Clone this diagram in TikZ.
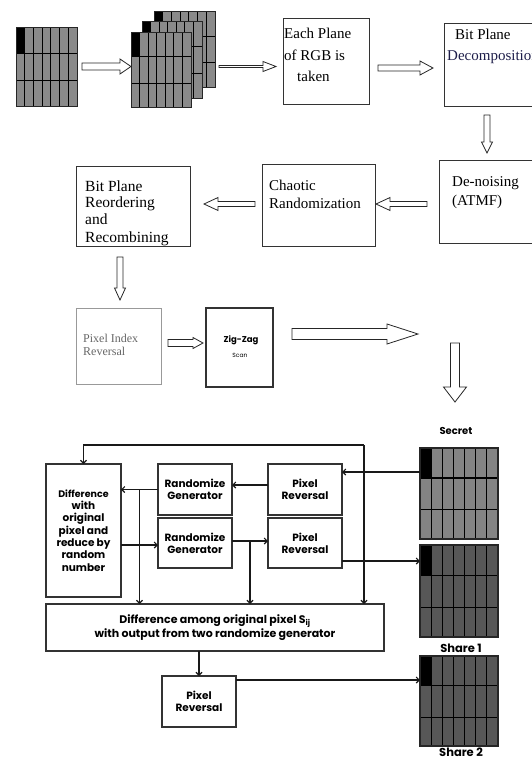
\documentclass[tikz,border=0pt]{standalone}
\usepackage{fontspec}
\setmainfont{Liberation Serif}
\newfontfamily\geo{Poppins}
\usetikzlibrary{calc,arrows.meta}

\definecolor{topgray}{HTML}{8A8A8A}
\definecolor{secgray}{HTML}{848484}
\definecolor{sharegray}{HTML}{575757}
\definecolor{inkblue}{HTML}{1E1E4A}

\tikzset{
  stepbox/.style={draw=black!80, line width=0.9pt, inner sep=0pt, outer sep=0pt, anchor=north west},
  serif/.style={anchor=base west, inner sep=0pt, font=\fontsize{15}{18}\selectfont},
  hollow/.style={draw=black!85, line width=0.8pt, fill=white, line join=miter},
  geobox/.style={draw=black!80, line width=1.2pt, inner sep=0pt, outer sep=0pt, anchor=north west,
    align=center, font=\geo\bfseries\fontsize{10.5}{12}\selectfont},
  flow/.style={draw=black!90, line width=1.1pt, -{Straight Barb[length=3pt,width=6pt]}},
  gridlbl/.style={font=\geo\bfseries\fontsize{11.5}{13}\selectfont, inner sep=0pt},
}

% hollow block arrow: start, tip, shaft half-width, head half-width, head length
\newcommand\blockarrow[5]{%
  \path let \p1=#1, \p2=#2, \n1={atan2(\y2-\y1,\x2-\x1)}, \n2={veclen(\x2-\x1,\y2-\y1)} in
    \pgfextra{\xdef\baAng{\n1}\xdef\baLen{\n2}\xdef\baX{\x1}\xdef\baY{\y1}};
  \draw[hollow,shift={(\baX,\baY)},rotate=\baAng]
    (0,#3) -- (\baLen-#5,#3) -- (\baLen-#5,#4) -- (\baLen,0) -- (\baLen-#5,-#4)
    -- (\baLen-#5,-#3) -- (0,-#3) -- cycle;}

% image grid: name, left, top, width, height, fill colour, line width
\newcommand\pixgrid[7]{%
  \node[fill=#6, minimum width=#4pt, minimum height=#5pt, inner sep=0pt, outer sep=0pt,
        anchor=north west] (#1) at (#2,#3) {};
  \fill[black] (#1.north west) rectangle ($(#1.north west)!1/7!(#1.north east) + (0,0.33*#5)$);
  \foreach \k in {1,...,6}
    \draw[black, line width=#7] ($(#1.north west)!\k/7!(#1.north east)$) -- ($(#1.south west)!\k/7!(#1.south east)$);
  \foreach \r in {0.33,0.68}
    \draw[black, line width=#7] ($(#1.north west)!\r!(#1.south west)$) -- ($(#1.north east)!\r!(#1.south east)$);
  \draw[black!85, line width=#7] (#1.north west) rectangle (#1.south east);}

\begin{document}
\begin{tikzpicture}[x=1pt,y=-1pt]
\useasboundingbox (0,0) rectangle (532,758);
\clip (0,0) rectangle (532,758);

% ---------- first row: image, RGB planes, plane selection ----------
\pixgrid{img}{16}{27}{61}{79}{topgray}{0.9pt}
\pixgrid{planeB}{154}{11}{61}{76}{topgray}{0.9pt}
\pixgrid{planeG}{142}{21}{60}{77}{topgray}{0.9pt}
\pixgrid{planeR}{131}{32}{60}{75}{topgray}{0.9pt}

\node[stepbox, minimum width=86pt, minimum height=86pt] (each) at (283,18) {};
\node[serif] (eachA) at (284,38) {Each Plane};
\node[serif] (eachB) at (284,60) {of RGB is};
\node[serif] (eachC) at (297,81) {taken};

\node[stepbox, minimum width=110pt, minimum height=83pt] (decomp) at (444,23) {};
\node[serif] (decA) at (455,39) {Bit Plane};
\node[serif, text=inkblue] (decB) at (447,60) {Decomposition};

\blockarrow{($(img.east)+(5,0)$)}{(planeR.west |- img.east)}{3.5}{7.5}{11}
\blockarrow{($(planeB.east |- img.east)+(4,0)$)}{($(each.west |- img.east)+(-7,0)$)}{1}{5}{13}
\blockarrow{($(each.east |- 0,68)+(9,0)$)}{($(decomp.west |- 0,68)+(-11,0)$)}{3}{7}{13}

% ---------- second row ----------
\node[stepbox, minimum width=110pt, minimum height=83pt] (den) at (439,160) {};
\node[serif] (denA) at (452,186) {De-noising};
\node[serif] (denB) at (452,205) {(ATMF)};

\node[stepbox, minimum width=113pt, minimum height=82pt] (chaos) at (262,164) {};
\node[serif] (chA) at (269,190) {Chaotic};
\node[serif] (chB) at (269,208) {Randomization};

\node[stepbox, minimum width=114pt, minimum height=80pt] (reord) at (76,166) {};
\node[serif, font=\fontsize{15.5}{18}\selectfont] (reA) at (85,191) {Bit Plane};
\node[serif, font=\fontsize{15.5}{18}\selectfont] (reB) at (85,207) {Reordering};
\node[serif, font=\fontsize{15.5}{18}\selectfont] (reC) at (85,224) {and};
\node[serif, font=\fontsize{15.5}{18}\selectfont] (reD) at (85,242) {Recombining};

\blockarrow{($(decomp.south -| 487,0)+(0,9)$)}{($(den.north -| 487,0)+(0,-7)$)}{3}{5.5}{11}
\blockarrow{($(den.west |- 0,204)+(-12,0)$)}{($(chaos.east |- 0,204)+(1,0)$)}{2.5}{6.5}{14}
\blockarrow{($(chaos.west |- 0,204)+(-7,0)$)}{($(reord.east |- 0,204)+(14,0)$)}{2.5}{6.5}{14}

% ---------- third row ----------
\node[stepbox, draw=black!40, minimum width=85pt, minimum height=76pt] (pix) at (76,308) {};
\node[serif, text=black!60, font=\fontsize{12}{14}\selectfont] (pixA) at (83,342) {Pixel Index};
\node[serif, text=black!60, font=\fontsize{12}{14}\selectfont] (pixB) at (83,355) {Reversal};

\node[stepbox, line width=1.6pt, minimum width=67pt, minimum height=79pt] (zz) at (206,308) {};
\node[anchor=base, inner sep=0pt, font=\geo\bfseries\fontsize{8.5}{9}\selectfont] (zzA) at (241,342) {Zig-Zag};
\node[anchor=base, inner sep=0pt, font=\geo\fontsize{6}{7}\selectfont] (zzB) at (240,357) {Scan};

\blockarrow{($(reord.south -| 120,0)+(0,11)$)}{($(pix.north -| 120,0)+(0,-8)$)}{3}{5.5}{12}
\blockarrow{($(pix.east |- 0,343)+(7,0)$)}{($(zz.west |- 0,343)+(-3,0)$)}{3.5}{5.5}{10}
\blockarrow{($(zz.east |- 0,334)+(19,0)$)}{($(zz.east |- 0,334)+(145,0)$)}{5.5}{10}{31}
\coordinate (downTop) at (455,343);
\coordinate (downTip) at (455,402);
\blockarrow{(downTop)}{(downTip)}{4.5}{11.5}{15}

% ---------- share generation ----------
\node[gridlbl, font=\geo\bfseries\fontsize{10}{12}\selectfont] (secLbl) at (456,431) {Secret};
\pixgrid{secret}{420}{448}{78}{91}{secgray}{1.2pt}
\pixgrid{share1}{420}{545}{78}{92}{sharegray}{1.2pt}
\node[gridlbl] (sh1Lbl) at (461,648) {Share 1};
\pixgrid{share2}{420}{656}{78}{90}{sharegray}{1.2pt}
\node[gridlbl] (sh2Lbl) at (461,752.5) {Share 2};

\node[geobox, minimum width=75pt, minimum height=133pt, font=\geo\bfseries\fontsize{10.5}{12.3}\selectfont] (diff) at (46,464)
  {{\fontsize{9.5}{12.3}\selectfont Difference}\\with\\original\\pixel and\\reduce by\\random\\number};
\node[geobox, minimum width=74pt, minimum height=51pt] (rg1) at (158,464) {Randomize\\Generator};
\node[geobox, minimum width=74pt, minimum height=50pt] (rg2) at (158,518) {Randomize\\Generator};
\node[geobox, minimum width=74pt, minimum height=51pt] (pr1) at (268,464) {Pixel\\Reversal};
\node[geobox, minimum width=74pt, minimum height=50pt] (pr2) at (268,518) {Pixel\\Reversal};
\node[geobox, minimum width=338pt, minimum height=47pt, font=\geo\bfseries\fontsize{11}{13}\selectfont] (big) at (46,604)
  {Difference among original pixel S\textsubscript{ij}\\with output from two randomize generator};
\node[geobox, minimum width=74pt, minimum height=51pt] (pr3) at (162,676) {Pixel\\Reversal};

% feedback from the secret image
\coordinate (loopTop) at (364,445);
\draw[flow] (loopTop) -| (diff.north);
\draw[flow] (loopTop) -- (loopTop |- big.north);

\coordinate (s0) at ($(secret.north west)+(0,24)$);
\draw[flow] (s0) -- (s0 -| pr1.east);
\coordinate (p1) at ($(pr1.north west)+(0,21)$);
\draw[flow] (p1) -- (p1 -| rg1.east);
\draw[flow] (rg1.west) -- (rg1.west -| diff.east);
\coordinate (b1) at ($(rg1.west)!0.5!(diff.east |- rg1.west)$);
\draw[flow] (b1) -- (b1 |- big.north);
\coordinate (d0) at ($(diff.east |- rg2.north)+(0,27)$);
\draw[flow] (d0) -- (d0 -| rg2.west);
\coordinate (g2) at ($(rg2.east)+(0,-2)$);
\draw[flow] (g2) -- (g2 -| pr2.west);
\coordinate (b2) at ($(g2)!0.5!(g2 -| pr2.west)$);
\draw[flow] (b2) -- (b2 |- big.north);
\coordinate (p2) at ($(pr2.north east)+(0,43)$);
\draw[flow] (p2) -- (p2 -| share1.west);
\draw[flow] (big.south -| pr3.north) -- (pr3.north);
\coordinate (p3) at ($(pr3.north east)+(0,4)$);
\draw[flow] (p3) -- (p3 -| share2.west);
\end{tikzpicture}
\end{document}
